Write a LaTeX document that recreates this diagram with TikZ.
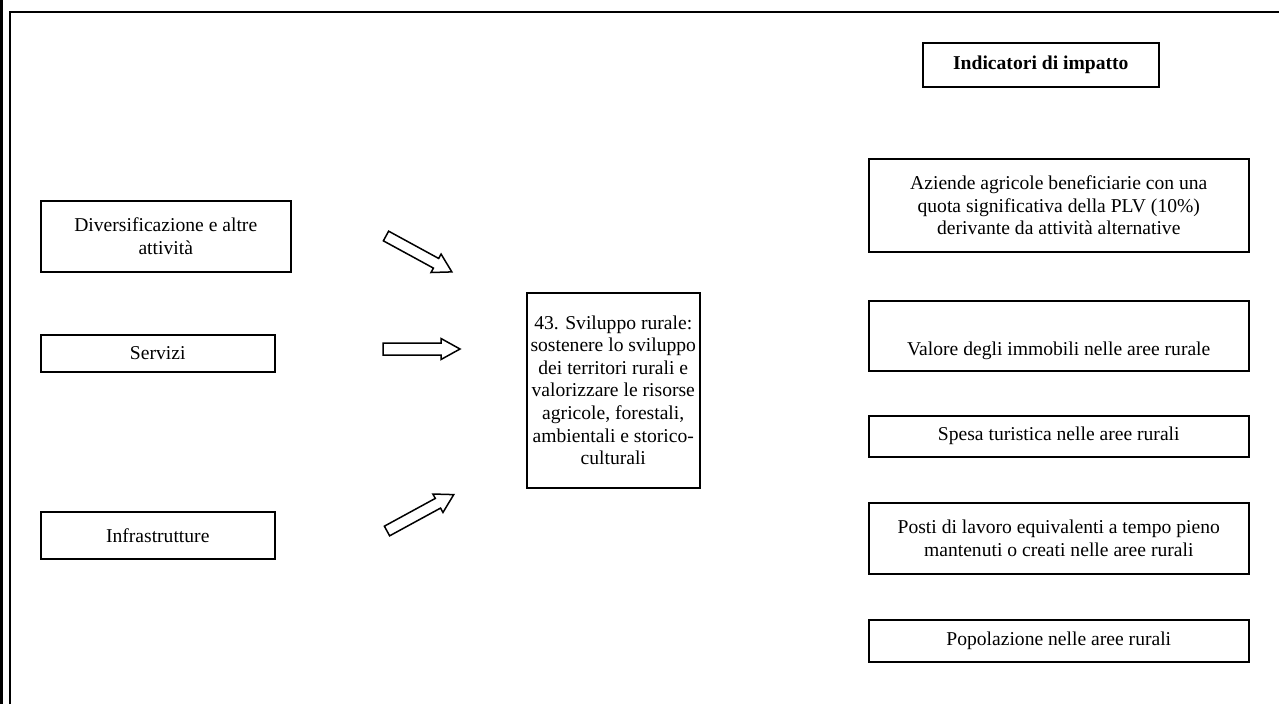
\documentclass[tikz,border=0pt]{standalone}
\usepackage{fontspec}
\setmainfont{Liberation Serif}
\begin{document}
\begin{tikzpicture}[x=1pt,y=-1pt,
  box/.style={draw, line width=1.5pt, anchor=north west, inner sep=0pt, align=center,
    font=\fontsize{19.6}{22.6}\selectfont},
  blockarrow/.style={draw, line width=1.5pt, line join=miter, fill=white}]
\useasboundingbox (0,0) rectangle (1279,704);
% frame
\fill (0,0) rectangle (3,704);
\draw[line width=2pt] (10,704) -- (10,12) -- (1279,12);
% left boxes
\node[box, minimum width=250, minimum height=71] (div) at (40,200)
  {Diversificazione e altre\\attività};
\node[box, minimum width=234, minimum height=37] (serv) at (40,334) {Servizi};
\node[box, minimum width=234, minimum height=47] (infra) at (40,511) {Infrastrutture};
% central box
\node[box, minimum width=173, minimum height=195] (obj) at (526,292)
  {43. Sviluppo rurale:\\sostenere lo sviluppo\\dei territori rurali e\\valorizzare le risorse\\agricole, forestali,\\ambientali e storico-\\culturali};
% right column
\node[box, minimum width=236, minimum height=44] (ind) at (922,42)
  {\bfseries Indicatori di impatto};
\node[box, minimum width=380, minimum height=93] (az) at (868,158)
  {Aziende agricole beneficiarie con una\\quota significativa della PLV (10\%)\\derivante da attività alternative};
\node[box, minimum width=380, minimum height=70] (val) at (868,300) {};
\node[font=\fontsize{19.6}{22.6}\selectfont, inner sep=0pt] (valtxt) at ([yshift=-15pt]val.center)
  {Valore degli immobili nelle aree rurale};
\node[box, minimum width=380, minimum height=41] (spesa) at (868,415)
  {Spesa turistica nelle aree rurali};
\node[box, minimum width=380, minimum height=71] (posti) at (868,502)
  {Posti di lavoro equivalenti a tempo pieno\\mantenuti o creati nelle aree rurali};
\node[box, minimum width=380, minimum height=42] (pop) at (868,619)
  {Popolazione nelle aree rurali};
% block arrows
\begin{scope}[shift={(386,236)}, rotate=-28.6]
  \draw[blockarrow] (0,-5.5) -- (57,-5.5) -- (57,-10.5) -- (75,0) -- (57,10.5) -- (57,5.5) -- (0,5.5) -- cycle;
\end{scope}
\begin{scope}[shift={(383,349)}]
  \draw[blockarrow] (0,-6) -- (58,-6) -- (58,-10.5) -- (77,0) -- (58,10.5) -- (58,6) -- (0,6) -- cycle;
\end{scope}
\begin{scope}[shift={(387,531)}, rotate=28.6]
  \draw[blockarrow] (0,-5.5) -- (58,-5.5) -- (58,-10.5) -- (76,0) -- (58,10.5) -- (58,5.5) -- (0,5.5) -- cycle;
\end{scope}
\end{tikzpicture}
\end{document}
